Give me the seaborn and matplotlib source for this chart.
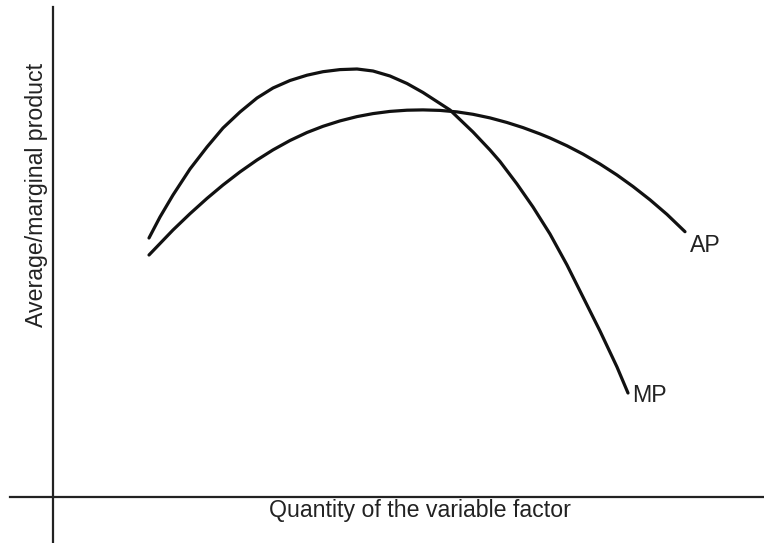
import pandas as pd
import matplotlib.pyplot as plt
import seaborn as sns


# DATA (arbitrary units)
mp_x = [96, 107, 120, 137, 154, 170, 187, 204, 220, 237, 254, 270, 287, 304, 320, 337,
        354, 370, 387, 397, 420, 437, 447, 464, 480, 497, 514, 530, 547, 564, 575]
mp_y = [259, 280, 302, 328, 350, 369, 385, 399, 409, 416.5, 421.8, 425.3, 427.4, 428, 426, 421,
        413.5, 404.5, 393.5, 387, 365, 347, 335.5, 313, 290, 263, 232, 200, 166, 130, 104]

ap_x = [96, 120, 137, 154, 170, 187, 204, 220, 237, 254, 270, 287, 304, 320, 337, 354, 370,
        387, 404, 420, 437, 454, 470, 487, 497, 514, 530, 547, 564, 580, 597, 614, 632]
ap_y = [242, 267, 283.3, 298.6, 312, 325.1, 337, 347.1, 356.5, 364.5, 370.7, 376.1, 380.4,
        383.4, 385.6, 386.8, 387.1, 386.6, 385.1, 382.7, 379.1, 374.5, 369.4, 363.1, 359,
        351.2, 342.9, 333, 322, 310.5, 297.2, 282.6, 265.3]

x_label = "Quantity of the variable factor"
y_label = "Average/marginal product"

df = pd.concat([
    pd.DataFrame({"q": mp_x, "v": mp_y, "curve": "MP"}),
    pd.DataFrame({"q": ap_x, "v": ap_y, "curve": "AP"}),
])


# STYLE
sns.set_style("white")
plt.rcParams['font.family'] = ['Liberation Sans', 'DejaVu Sans']

fig = plt.figure(figsize=(7.64, 5.43), dpi=100)
ax = fig.add_axes([0, 0, 1, 1])

sns.lineplot(
    data=df, x="q", y="v", hue="curve", units="curve",
    estimator=None, sort=False,
    palette={"MP": "#111111", "AP": "#111111"},
    linewidth=2.3, legend=False, ax=ax
)
for line in ax.lines:
    line.set_solid_capstyle("round")
    line.set_solid_joinstyle("round")

ax.set_xlim(-53, 711)
ax.set_ylim(-46, 497)

# axes crossing at the origin
for side in ["top", "right"]:
    ax.spines[side].set_visible(False)
ax.spines["left"].set_position(("data", 0))
ax.spines["bottom"].set_position(("data", 0))
ax.spines["left"].set_bounds(-46, 490)
ax.spines["bottom"].set_bounds(-43, 711)
for side in ["left", "bottom"]:
    ax.spines[side].set_linewidth(1.6)
    ax.spines[side].set_color("#222222")

ax.set_xticks([])
ax.set_yticks([])
ax.set_xlabel("")
ax.set_ylabel("")

# curve labels
ax.text(637, 251, "AP", fontsize=16.7, color="#222222", ha="left", va="center")
ax.text(579, 101, "MP", fontsize=16.7, color="#222222", ha="left", va="center")

# axis titles
fig.text(420 / 764, 1 - 511 / 543, x_label, fontsize=16.7, color="#222222",
         ha="center", va="center")
fig.text(37 / 764, 1 - 195 / 543, y_label, fontsize=16.7, color="#222222",
         ha="center", va="center", rotation=90)

plt.savefig("out.png", dpi=100)
